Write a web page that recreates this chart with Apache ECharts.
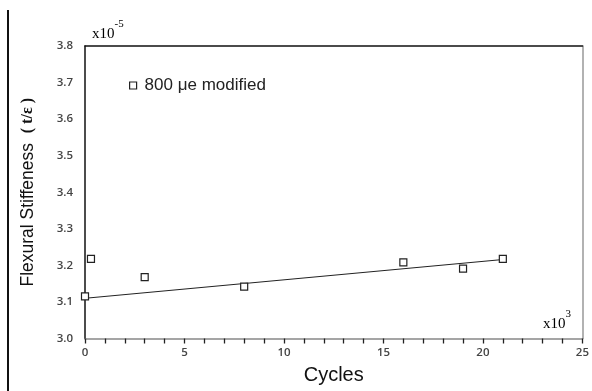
<!DOCTYPE html>
<html>
<head>
<meta charset="utf-8">
<script src="https://cdn.jsdelivr.net/npm/echarts@6/dist/echarts.min.js"></script>
<style>html,body{margin:0;padding:0;background:#fff}#c{width:592px;height:391px}</style>
</head>
<body>
<div id="c"></div>
<script>
// Data
var cycles = [0, 0.3, 3, 8, 16, 19, 21];            // x10^3
var stiffness = [3.115, 3.218, 3.168, 3.142, 3.208, 3.191, 3.218]; // x10^-5
var trendX = [0, 21];
var trendY = [3.110, 3.216];
var xTicks = [0, 5, 10, 15, 20, 25];
var yTicks = [3.0, 3.1, 3.2, 3.3, 3.4, 3.5, 3.6, 3.7, 3.8];
var seriesName = '800 \u03bce modified';

var chart = echarts.init(document.getElementById('c'));
var pts = cycles.map(function (x, i) { return [x, stiffness[i]]; });
var trend = trendX.map(function (x, i) { return [x, trendY[i]]; });
var tickFont = { fontFamily: 'Open Sans', fontSize: 11.5, fontWeight: 600, color: '#444' };

chart.setOption({
  animation: false,
  backgroundColor: '#fff',
  grid: { left: 85, right: 4.5, top: 46, bottom: 52.5, containLabel: false },
  legend: {
    left: 124, top: 72,
    itemWidth: 7, itemHeight: 7,
    textStyle: { fontFamily: 'Liberation Sans', fontSize: 17, color: '#222', padding: [0, 0, 0, 3] },
    data: [{ name: seriesName, icon: 'rect', itemStyle: { color: '#fff', borderColor: '#222', borderWidth: 1.2 } }]
  },
  xAxis: [{
    type: 'value', min: xTicks[0], max: xTicks[xTicks.length - 1], interval: 5,
    axisLine: { onZero: false, lineStyle: { color: '#888', width: 1.5 } },
    axisTick: { show: true, inside: false, length: 5, lineStyle: { color: '#222', width: 1.3 } },
    minorTick: { show: true, splitNumber: 5, length: 5, lineStyle: { color: '#222', width: 1.3 } },
    splitLine: { show: false },
    axisLabel: Object.assign({ margin: 8 }, tickFont),
    name: 'Cycles', nameLocation: 'middle', nameGap: 27,
    nameTextStyle: { fontFamily: 'Liberation Sans', fontSize: 20, color: '#111' }
  }, {
    type: 'value', position: 'top', min: 0, max: 25,
    axisLine: { show: true, onZero: false, lineStyle: { color: '#111', width: 1.5 } },
    axisTick: { show: false }, axisLabel: { show: false }, splitLine: { show: false }
  }],
  yAxis: [{
    type: 'value', min: yTicks[0], max: yTicks[yTicks.length - 1], interval: 0.1,
    axisLine: { show: true, onZero: false, lineStyle: { color: '#111', width: 1.5 } },
    axisTick: { show: false },
    splitLine: { show: false },
    axisLabel: Object.assign({ margin: 12, formatter: function (v) { return v.toFixed(1); } }, tickFont),
    name: '{a|Flexural Stiffeness  }{b|( t/\u03b5 )}', nameLocation: 'middle', nameGap: 48,
    nameTextStyle: {
      rich: {
        a: { fontFamily: 'Liberation Sans', fontSize: 17.5, color: '#111' },
        b: { fontFamily: 'Liberation Serif', fontSize: 16, fontWeight: 'bold', color: '#111' }
      }
    }
  }, {
    type: 'value', position: 'right', min: 3.0, max: 3.8,
    axisLine: { show: true, onZero: false, lineStyle: { color: '#999', width: 1.5 } },
    axisTick: { show: false }, axisLabel: { show: false }, splitLine: { show: false }
  }],
  graphic: [
    { type: 'line', shape: { x1: 8, y1: 10, x2: 8, y2: 391 }, style: { stroke: '#111', lineWidth: 2 } },
    { type: 'text', left: 92, top: 19, style: {
      text: '{m|x10}{s|-5}',
      rich: { m: { fontFamily: 'Liberation Serif', fontSize: 15, color: '#111', padding: [8, 0, 0, 0] },
              s: { fontFamily: 'Liberation Serif', fontSize: 11, color: '#111', verticalAlign: 'top' } } } },
    { type: 'text', left: 543, top: 309, style: {
      text: '{m|x10}{s|3}',
      rich: { m: { fontFamily: 'Liberation Serif', fontSize: 15, color: '#111', padding: [8, 0, 0, 0] },
              s: { fontFamily: 'Liberation Serif', fontSize: 11, color: '#7a4a1a', verticalAlign: 'top' } } } }
  ],
  series: [{
    type: 'line', data: trend, symbol: 'none', silent: true, z: 1,
    lineStyle: { color: '#222', width: 1 }
  }, {
    name: seriesName, type: 'scatter', data: pts, symbol: 'rect', symbolSize: 7, z: 3,
    itemStyle: { color: '#fff', borderColor: '#222', borderWidth: 1.2, opacity: 1 }
  }]
});
</script>
</body>
</html>
